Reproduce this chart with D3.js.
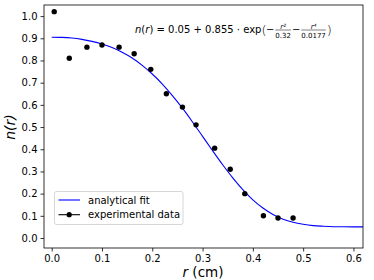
<!DOCTYPE html>
<html>
<head>
<meta charset="utf-8">
<script src="https://cdn.jsdelivr.net/npm/d3@7"></script>
<style>
  body { margin: 0; background: #fff; }
  text { font-family: "DejaVu Sans", sans-serif; fill: #000; }
</style>
</head>
<body>
<svg id="chart" width="374" height="280"></svg>
<script>
// experimental points
var expR = [0.005, 0.035, 0.070, 0.100, 0.134, 0.164, 0.197, 0.228, 0.260, 0.287, 0.324, 0.355, 0.384, 0.421, 0.450, 0.480];
var expN = [1.02, 0.81, 0.86, 0.87, 0.86, 0.83, 0.76, 0.65, 0.59, 0.51, 0.405, 0.31, 0.20, 0.10, 0.09, 0.09];

// analytical fit curve
var fitR = [0, 0.02, 0.04, 0.06, 0.08, 0.10, 0.12, 0.14, 0.16, 0.18, 0.20, 0.22, 0.24, 0.26, 0.28, 0.30,
            0.32, 0.34, 0.36, 0.38, 0.40, 0.42, 0.44, 0.46, 0.48, 0.50, 0.52, 0.54, 0.56, 0.58, 0.60, 0.62];
var fitN = [0.905, 0.904, 0.901, 0.895, 0.886, 0.874, 0.858, 0.837, 0.811, 0.778, 0.739, 0.694, 0.642, 0.585, 0.523, 0.458,
            0.393, 0.330, 0.271, 0.218, 0.172, 0.135, 0.106, 0.085, 0.071, 0.062, 0.056, 0.053, 0.051, 0.0505, 0.0502, 0.0501];

var xTicks = [0.0, 0.1, 0.2, 0.3, 0.4, 0.5, 0.6];
var yTicks = [0.0, 0.1, 0.2, 0.3, 0.4, 0.5, 0.6, 0.7, 0.8, 0.9, 1.0];

var svg = d3.select("#chart");
var pLeft = 44, pRight = 363, pTop = 5, pBottom = 248;

var x = d3.scaleLinear().domain([-0.0153, 0.619]).range([pLeft, pRight]);
var y = d3.scaleLinear().domain([-0.045, 1.05]).range([pBottom, pTop]);

svg.append("clipPath").attr("id", "clip")
  .append("rect").attr("x", pLeft).attr("y", pTop)
  .attr("width", pRight - pLeft).attr("height", pBottom - pTop);

// axes
var xAxis = svg.append("g").attr("transform", "translate(0," + pBottom + ")")
  .call(d3.axisBottom(x).tickValues(xTicks).tickFormat(d3.format(".1f")).tickSizeOuter(0).tickSize(3.5).tickPadding(3));
var yAxis = svg.append("g").attr("transform", "translate(" + pLeft + ",0)")
  .call(d3.axisLeft(y).tickValues(yTicks).tickFormat(d3.format(".1f")).tickSizeOuter(0).tickSize(3.5).tickPadding(3));
[xAxis, yAxis].forEach(function(a) {
  a.select(".domain").remove();
  a.selectAll("text").style("font-family", "DejaVu Sans").style("font-size", "10px");
  a.selectAll("line").attr("stroke", "#000").attr("stroke-width", 0.8);
});

// fit line
var line = d3.line()
  .x(function(d, i) { return x(fitR[i]); })
  .y(function(d) { return y(d); })
  .curve(d3.curveMonotoneX);

svg.append("path").datum(fitN)
  .attr("clip-path", "url(#clip)")
  .attr("d", line)
  .attr("fill", "none").attr("stroke", "#0000ff").attr("stroke-width", 1.1);

// points
svg.selectAll("circle.pt").data(expN).enter().append("circle")
  .attr("class", "pt")
  .attr("cx", function(d, i) { return x(expR[i]); })
  .attr("cy", function(d) { return y(d); })
  .attr("r", 2.7).attr("fill", "#000");

// frame
svg.append("rect").attr("x", pLeft).attr("y", pTop)
  .attr("width", pRight - pLeft).attr("height", pBottom - pTop)
  .attr("fill", "none").attr("stroke", "#000").attr("stroke-width", 0.8);

// axis labels
svg.append("text").attr("x", 203).attr("y", 276.5).attr("text-anchor", "middle")
  .style("font-size", "13.5px")
  .html('<tspan font-style="italic">r</tspan> (cm)');
svg.append("text").attr("transform", "translate(15,127) rotate(-90)").attr("text-anchor", "middle")
  .style("font-size", "14px").style("font-style", "italic")
  .text("n(r)");

// formula
var fy = 33;
var f = svg.append("g").style("font-size", "10px");
var cx = 135;
function seg(str, italic) {
  var t = f.append("text").attr("x", cx).attr("y", fy).text(str);
  if (italic) t.style("font-style", "italic");
  cx += t.node().getComputedTextLength();
  return t;
}
function frac(num, den) {
  var g = f.append("g");
  var tn = g.append("text").attr("y", fy - 4).style("font-size", "7px").style("font-style", "italic").attr("text-anchor", "middle").text(num);
  var td = g.append("text").attr("y", fy + 4.5).style("font-size", "7px").attr("text-anchor", "middle").text(den);
  var w = Math.max(tn.node().getComputedTextLength(), td.node().getComputedTextLength());
  var mid = cx + 1 + w / 2;
  tn.attr("x", mid); td.attr("x", mid);
  g.append("line").attr("x1", cx + 1).attr("x2", cx + 1 + w)
    .attr("y1", fy - 3).attr("y2", fy - 3).attr("stroke", "#000").attr("stroke-width", 0.5);
  cx += w + 2;
}
seg("n", true); seg("("); seg("r", true); seg(") = 0.05 + 0.855 · exp");
f.append("text").attr("x", cx).attr("y", fy + 1.5).style("font-size", "13px").style("font-weight", "200").text("(");
cx += 4.5;
seg("−"); frac("r²", "0.32"); seg(" − "); frac("r⁴", "0.0177");
f.append("text").attr("x", cx).attr("y", fy + 1.5).style("font-size", "13px").style("font-weight", "200").text(")");

// legend
var lg = svg.append("g");
lg.append("rect").attr("x", 54.5).attr("y", 191.5).attr("width", 128.5).attr("height", 33)
  .attr("rx", 2).attr("fill", "#fff").attr("fill-opacity", 0.8).attr("stroke", "#ccc").attr("stroke-width", 0.8);
lg.append("line").attr("x1", 58.5).attr("x2", 80).attr("y1", 200).attr("y2", 200)
  .attr("stroke", "#0000ff").attr("stroke-width", 1.1);
lg.append("line").attr("x1", 58.5).attr("x2", 80).attr("y1", 214.7).attr("y2", 214.7)
  .attr("stroke", "#000").attr("stroke-width", 1.1);
lg.append("circle").attr("cx", 69.2).attr("cy", 214.7).attr("r", 2.6).attr("fill", "#000");
lg.append("text").attr("x", 88).attr("y", 203.5).style("font-size", "10px").text("analytical fit");
lg.append("text").attr("x", 88).attr("y", 218.2).style("font-size", "10px").text("experimental data");
</script>
</body>
</html>
